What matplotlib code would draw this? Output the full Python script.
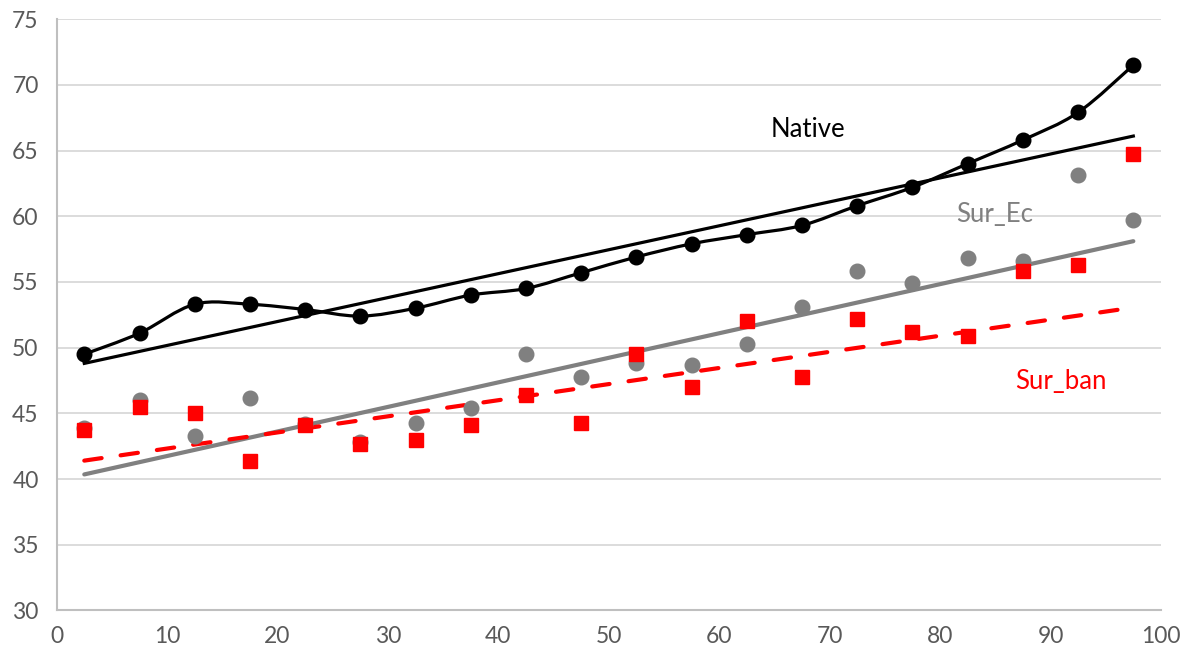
import matplotlib.pyplot as plt
from matplotlib.path import Path
from matplotlib.patches import PathPatch

plt.rcParams['font.family'] = ['Lato', 'DejaVu Sans']

x = [2.5, 7.5, 12.5, 17.5, 22.5, 27.5, 32.5, 37.5, 42.5, 47.5,
     52.5, 57.5, 62.5, 67.5, 72.5, 77.5, 82.5, 87.5, 92.5, 97.5]
native = [49.5, 51.1, 53.3, 53.3, 52.9, 52.4, 53.0, 54.0, 54.5, 55.7,
          56.9, 57.9, 58.6, 59.3, 60.8, 62.2, 64.0, 65.8, 67.9, 71.5]
sur_ec = [43.9, 46.0, 43.3, 46.2, 44.2, 42.8, 44.3, 45.4, 49.5, 47.8,
          48.8, 48.7, 50.3, 53.1, 55.8, 54.9, 56.8, 56.6, 63.1, 59.7]
sur_ban = [43.7, 45.5, 45.0, 41.4, 44.1, 42.7, 43.0, 44.1, 46.4, 44.3,
           49.5, 47.0, 52.0, 47.8, 52.2, 51.2, 50.9, 55.8, 56.3, 64.7]

# trend line end points as drawn
trend_x = [2.5, 97.5]
native_trend = [48.8, 66.1]
ec_trend = [40.35, 58.1]
ban_trend = [41.4, 53.05]

xticks = list(range(0, 101, 10))
yticks = list(range(30, 76, 5))


def smooth_path(xs, ys):
    # Catmull-Rom style smoothing like spreadsheet "smoothed line"
    pts = list(zip(xs, ys))
    verts = [pts[0]]
    codes = [Path.MOVETO]
    n = len(pts)
    for i in range(n - 1):
        p0 = pts[i - 1] if i > 0 else pts[i]
        p1 = pts[i]
        p2 = pts[i + 1]
        p3 = pts[i + 2] if i + 2 < n else pts[i + 1]
        c1 = (p1[0] + (p2[0] - p0[0]) / 6, p1[1] + (p2[1] - p0[1]) / 6)
        c2 = (p2[0] - (p3[0] - p1[0]) / 6, p2[1] - (p3[1] - p1[1]) / 6)
        verts += [c1, c2, p2]
        codes += [Path.CURVE4] * 3
    return Path(verts, codes)


fig = plt.figure(figsize=(11.81, 6.57), dpi=100)
ax = fig.add_axes([0.048, 0.0709, 0.935, 0.9])

ax.plot(trend_x, ec_trend, color='#808080', lw=3.0, solid_capstyle='round', zorder=3)
ax.plot(trend_x, ban_trend, color='#ff0000', lw=3.0, ls=(0, (4.2, 4.6)),
        dash_capstyle='round', zorder=3)
ax.plot(x, sur_ec, 'o', color='#808080', ms=10.5, zorder=4)
ax.plot(x, sur_ban, 's', color='#ff0000', ms=10.5, zorder=5)

ax.add_patch(PathPatch(smooth_path(x, native), fill=False, edgecolor='black',
                       lw=2.3, zorder=6))
ax.plot(x, native, 'o', color='black', ms=10.5, zorder=7)
ax.plot(trend_x, native_trend, color='black', lw=2.3, zorder=6)

ax.text(68.0, 66.6, 'Native', color='black', fontsize=18.5, ha='center', va='center')
ax.text(84.9, 60.1, 'Sur_Ec', color='#808080', fontsize=18.5, ha='center', va='center')
ax.text(90.9, 47.4, 'Sur_ban', color='#ff0000', fontsize=18.5, ha='center', va='center')

ax.set_xlim(0, 100)
ax.set_ylim(30, 75)
ax.set_xticks(xticks)
ax.set_yticks(yticks)
ax.grid(axis='y', color='#d9d9d9', lw=1.3)
ax.set_axisbelow(True)
for s in ['top', 'right']:
    ax.spines[s].set_visible(False)
for s in ['left', 'bottom']:
    ax.spines[s].set_color('#bfbfbf')
    ax.spines[s].set_linewidth(1.5)
ax.tick_params(length=0, labelsize=16.5, labelcolor='#595959', pad=11)
ax.tick_params(axis='y', pad=13)

fig.savefig('out.png', dpi=100)
